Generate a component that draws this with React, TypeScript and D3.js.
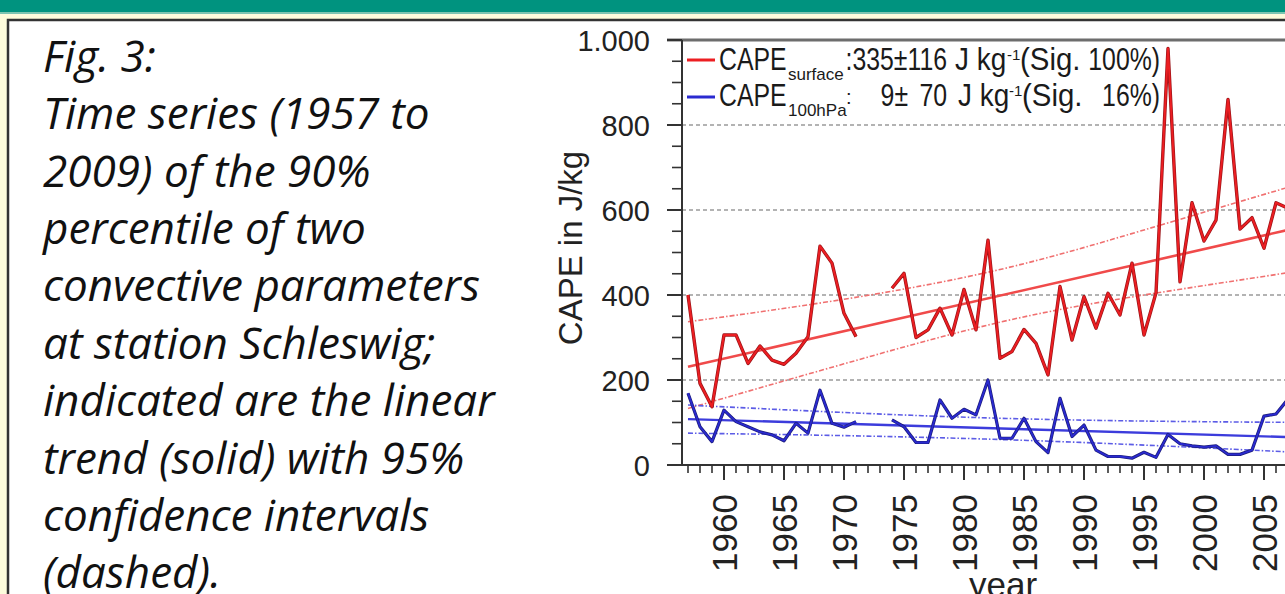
import React from 'react'
import * as d3 from 'd3'

// chart values
const years = d3.range(1957, 2008)
const capeSurface = [400, 192, 137, 306, 306, 239, 280, 247, 237, 263, 302, 515, 475, 357, 302, null, null, 416, 451, 300, 318, 369, 306, 413, 318, 529, 251, 267, 319, 286, 212, 420, 294, 396, 322, 404, 353, 475, 306, 405, 980, 431, 617, 527, 576, 860, 555, 582, 510, 617, 604]
const cape100 = [169, 90, 55, 129, 102, 90, 78, 71, 57, 98, 75, 176, 98, 89, 102, null, null, 106, 90, 53, 53, 153, 110, 131, 118, 200, 63, 63, 110, 55, 29, 157, 67, 94, 35, 20, 20, 16, 30, 18, 72, 50, 45, 42, 45, 25, 25, 35, 115, 120, 155]

const trendSurface = [[1957, 231], [2009, 566]]
const upperSurface = [[1957, 337], [1970, 390], [1983, 460], [1995, 553], [2009, 670]]
const lowerSurface = [[1957, 133], [1970, 238], [1983, 336], [1995, 400], [2009, 461]]
const trend100 = [[1957, 108], [2009, 64]]
const upper100 = [[1957, 141], [1983, 110], [2009, 100]]
const lower100 = [[1957, 75], [1983, 60], [2009, 28]]

const yTicks = [0, 200, 400, 600, 800, 1000]
const yTickLabels = ['0', '200', '400', '600', '800', '1.000']
const xTicks = [1960, 1965, 1970, 1975, 1980, 1985, 1990, 1995, 2000, 2005]

const captionLines = [
  'Fig. 3:',
  'Time series (1957 to',
  '2009) of the 90%',
  'percentile of two',
  'convective parameters',
  'at station Schleswig;',
  'indicated are the linear',
  'trend (solid) with 95%',
  'confidence intervals',
  '(dashed).'
]

const W = 1285
const H = 594
const RED = '#ec1e22'
const BLUE = '#2a2ad0'
const FONT = "Arial, 'Liberation Sans', sans-serif"

// legend text is drawn slightly condensed, as in the figure
const Narrow = ({ x, y, anchor = 'start', size = 31, sx = 0.8, children }: any) => (
  <text transform={`translate(${x},${y}) scale(${sx},1)`} textAnchor={anchor} fontSize={size}>{children}</text>
)

export default function App() {
  const x = d3.scaleLinear().domain([1957, 2009]).range([688, 1312])
  const y = d3.scaleLinear().domain([0, 1000]).range([465, 40])
  const axisX = 682

  const seriesLine = d3.line<number | null>()
    .defined(d => d != null)
    .x((d, i) => x(years[i]))
    .y(d => y(d as number))

  const bandLine = d3.line<number[]>()
    .x(d => x(d[0]))
    .y(d => y(d[1]))
    .curve(d3.curveNatural)

  const minorY = d3.range(0, 1001, 50).filter(v => v % 200 !== 0)
  const minorX = d3.range(1957, 2010).filter(v => v % 5 !== 0)

  return (
    <svg width={W} height={H} style={{ position: 'absolute', left: 0, top: 0, background: '#fff' }}>
      {/* poster frame */}
      <rect x={0} y={0} width={W} height={H} fill="#fdfcdc" />
      <rect x={0} y={0} width={W} height={12.5} fill="#00937f" />
      <rect x={0} y={12.5} width={W} height={1.5} fill="#7cc3b3" />
      <rect x={8} y={20} width={W} height={H} fill="#fff" stroke="#333" strokeWidth={2.5} />

      {/* caption */}
      <g fontFamily="'Open Sans', sans-serif" fontStyle="italic" fontSize={44} fill="#111">
        {captionLines.map((t, i) => (
          <text key={i} x={43} y={71.7 + i * 57.4}>{t}</text>
        ))}
      </g>

      {/* grid */}
      <g stroke="#9a9a9a" strokeWidth={1.4} strokeDasharray="4 3">
        {yTicks.slice(1, -1).map(v => (
          <line key={v} x1={axisX} x2={W} y1={y(v)} y2={y(v)} />
        ))}
      </g>
      <line x1={667} x2={W} y1={y(1000)} y2={y(1000)} stroke="#6d6d6d" strokeWidth={3} />

      {/* confidence bands and trends */}
      <g fill="none">
        <path d={bandLine(upperSurface) || ''} stroke="#f07070" strokeWidth={1.6} strokeDasharray="5 2 1.5 2" />
        <path d={bandLine(lowerSurface) || ''} stroke="#f07070" strokeWidth={1.6} strokeDasharray="5 2 1.5 2" />
        <path d={bandLine(trendSurface) || ''} stroke="#f04a4a" strokeWidth={2.6} />
        <path d={bandLine(upper100) || ''} stroke="#5c5ce6" strokeWidth={1.6} strokeDasharray="5 2 1.5 2" />
        <path d={bandLine(lower100) || ''} stroke="#5c5ce6" strokeWidth={1.6} strokeDasharray="5 2 1.5 2" />
        <path d={bandLine(trend100) || ''} stroke="#3c3cdc" strokeWidth={2.4} />
      </g>

      {/* series: dark rim under a bright core, like the printed figure */}
      <g fill="none" strokeLinejoin="round">
        <path d={seriesLine(cape100) || ''} stroke="#1c1c78" strokeWidth={3.2} />
        <path d={seriesLine(cape100) || ''} stroke={BLUE} strokeWidth={1.8} />
        <path d={seriesLine(capeSurface) || ''} stroke="#9a1418" strokeWidth={3.4} />
        <path d={seriesLine(capeSurface) || ''} stroke={RED} strokeWidth={2} />
      </g>

      {/* axes */}
      <g stroke="#333" strokeWidth={2}>
        <line x1={axisX} x2={axisX} y1={y(1000)} y2={y(0)} />
        <line x1={667} x2={W} y1={y(0)} y2={y(0)} />
        {yTicks.map(v => <line key={v} x1={667} x2={axisX} y1={y(v)} y2={y(v)} />)}
        {minorY.map(v => <line key={v} x1={672} x2={axisX} y1={y(v)} y2={y(v)} strokeWidth={1.6} />)}
        {xTicks.map(v => <line key={v} x1={x(v)} x2={x(v)} y1={y(0)} y2={y(0) + 15} />)}
        {minorX.map(v => <line key={v} x1={x(v)} x2={x(v)} y1={y(0)} y2={y(0) + 8} strokeWidth={1.6} />)}
      </g>
      <g fontFamily={FONT} fontSize={29} fill="#222" textAnchor="end">
        {yTicks.map((v, i) => (
          <text key={v} x={650} y={y(v) + 10.5}>{yTickLabels[i]}</text>
        ))}
      </g>
      <g fontFamily={FONT} fontSize={35} fill="#222" textAnchor="end">
        {xTicks.map(v => (
          <text key={v} transform={`translate(${x(v) + 12.5},${494}) rotate(-90)`}>{v}</text>
        ))}
      </g>
      <text transform="translate(582,248) rotate(-90)" textAnchor="middle" fontFamily={FONT} fontSize={33} fill="#222">CAPE in J/kg</text>
      <text x={1003} y={597} textAnchor="middle" fontFamily={FONT} fontSize={35} fill="#222">year</text>

      {/* legend */}
      <line x1={687} x2={715} y1={60} y2={60} stroke={RED} strokeWidth={3} />
      <line x1={687} x2={715} y1={97} y2={97} stroke={BLUE} strokeWidth={3} />
      <g fontFamily={FONT} fill="#1a1a1a">
        <Narrow x={719} y={70}>CAPE</Narrow>
        <Narrow x={788} y={80} size={17} sx={1}>surface</Narrow>
        <Narrow x={947} y={70} anchor="end">:335±116</Narrow>
        <Narrow x={955} y={70} sx={0.9}>J kg</Narrow>
        <Narrow x={1007} y={60} size={15} sx={1}>-1</Narrow>
        <Narrow x={1020} y={70} sx={0.95}>(Sig.</Narrow>
        <Narrow x={1160} y={70} anchor="end">100%)</Narrow>

        <Narrow x={719} y={106}>CAPE</Narrow>
        <Narrow x={788} y={116} size={17} sx={1}>100hPa</Narrow>
        <Narrow x={846} y={104} size={20} sx={1}>:</Narrow>
        <Narrow x={908} y={106} anchor="end">9±</Narrow>
        <Narrow x={947} y={106} anchor="end">70</Narrow>
        <Narrow x={958} y={106} sx={0.9}>J kg</Narrow>
        <Narrow x={1009} y={96} size={15} sx={1}>-1</Narrow>
        <Narrow x={1022} y={106} sx={0.95}>(Sig.</Narrow>
        <Narrow x={1160} y={106} anchor="end">16%)</Narrow>
      </g>
    </svg>
  )
}
